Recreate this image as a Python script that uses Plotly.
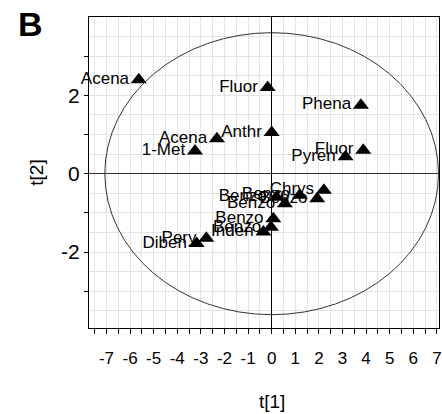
import plotly.graph_objects as go

names = ["Acena", "Fluor", "Phena", "Anthr", "Acena", "1-Met", "Fluor", "Pyren",
         "Chrys", "Benzo", "Benzo", "Benzo", "Benzo", "Benzo", "Benzo", "Inden",
         "Pery", "Diben"]
t1 = [-5.63, -0.17, 3.78, 0.00, -2.32, -3.25, 3.88, 3.13,
      2.21, 1.93, 1.19, 0.56, 0.21, 0.07, -0.03, -0.35,
      -2.77, -3.18]
t2 = [2.40, 2.20, 1.75, 1.05, 0.89, 0.58, 0.60, 0.43,
      -0.42, -0.64, -0.55, -0.77, -0.60, -1.15, -1.37, -1.49,
      -1.65, -1.78]

ellipse_a = 7.07
ellipse_b = 3.60

x_ticks = list(range(-7, 8))
y_tickvals = [-3, -2, -1, 0, 1, 2, 3]
y_ticktext = ["", "-2", "", "0", "", "2", ""]

FONT = "Liberation Sans, Arial, sans-serif"

fig = go.Figure()
fig.add_trace(go.Scatter(
    x=t1, y=t2, mode="markers+text", text=names,
    textposition="middle left",
    textfont=dict(family=FONT, size=17, color="black"),
    marker=dict(symbol="triangle-up", size=14, color="black"),
    showlegend=False, cliponaxis=False,
))

fig.add_shape(type="circle", xref="x", yref="y",
              x0=-ellipse_a, x1=ellipse_a, y0=-ellipse_b, y1=ellipse_b,
              line=dict(color="#333333", width=1))

fig.update_xaxes(
    range=[-7.74, 7.09], tickvals=x_ticks, ticktext=[str(v) for v in x_ticks],
    ticks="outside", ticklen=5, tickcolor="black", ticklabelstandoff=9,
    ticklabeloverflow="allow",
    tickfont=dict(family=FONT, size=17, color="black"),
    showgrid=True, gridcolor="#e4e4e4", gridwidth=1,
    minor=dict(dtick=0.5, tick0=0, ticks="outside", ticklen=5, tickcolor="black",
               showgrid=True, gridcolor="#e4e4e4", gridwidth=1),
    zeroline=True, zerolinecolor="black", zerolinewidth=1.3,
    showline=True, linecolor="black", linewidth=1.3, mirror=True,
)
fig.update_yaxes(
    range=[-3.94, 4.0], tickvals=y_tickvals, ticktext=y_ticktext,
    ticks="outside", ticklen=4, tickcolor="black",
    tickfont=dict(family=FONT, size=21, color="black"),
    showgrid=True, gridcolor="#e4e4e4", gridwidth=1,
    minor=dict(dtick=0.5, tick0=0, showgrid=True, gridcolor="#e4e4e4", gridwidth=1),
    zeroline=True, zerolinecolor="#333333", zerolinewidth=1,
    showline=True, linecolor="black", linewidth=1.3, mirror=True,
    title=dict(text="t[2]", font=dict(family=FONT, size=19, color="black"), standoff=12),
)

fig.add_annotation(text="t[1]", xref="x", yref="paper", x=0, y=-0.235,
                   showarrow=False, yanchor="middle",
                   font=dict(family=FONT, size=19, color="black"))
fig.add_annotation(text="<b>B</b>", xref="paper", yref="paper",
                   x=-0.167, y=1.0, xanchor="center", yanchor="middle",
                   showarrow=False, yshift=-7,
                   font=dict(family=FONT, size=34, color="black"))

fig.update_layout(
    width=442, height=414,
    margin=dict(l=89, r=0, t=17, b=86),
    paper_bgcolor="white", plot_bgcolor="white",
    font=dict(family=FONT, color="black"),
)

fig.write_html("out.html", config={"displayModeBar": False},
               post_script="document.body.style.margin='0';document.body.style.overflow='hidden';")
